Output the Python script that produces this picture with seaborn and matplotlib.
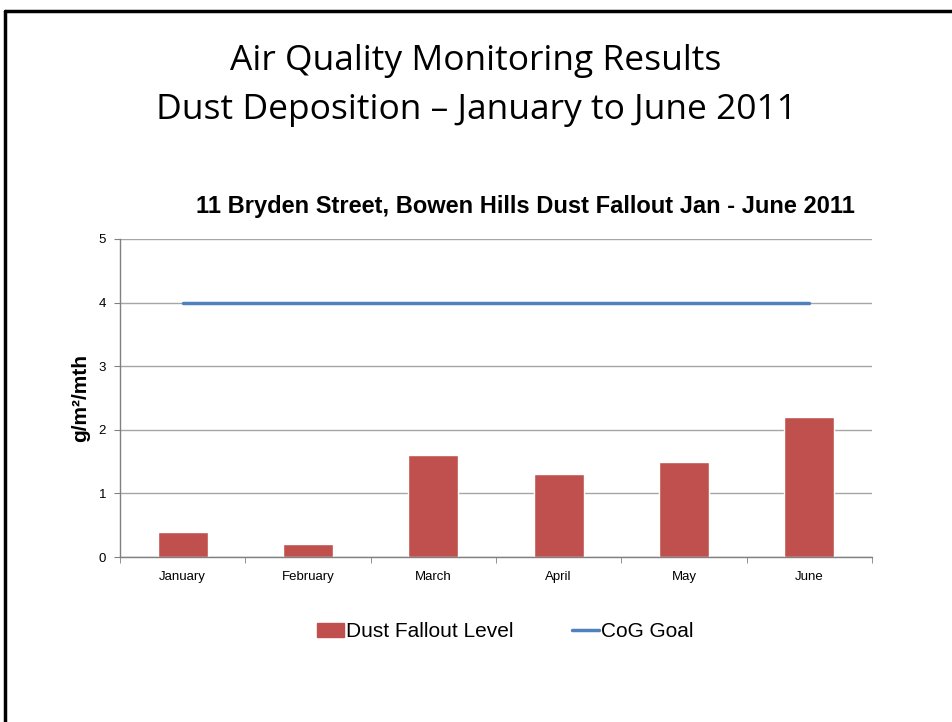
import numpy as np
import pandas as pd
import matplotlib
matplotlib.use("Agg")
import matplotlib.pyplot as plt
from matplotlib.lines import Line2D
from matplotlib.patches import Patch
import seaborn as sns

months = ["January", "February", "March", "April", "May", "June"]
dust = [0.4, 0.2, 1.6, 1.3, 1.5, 2.2]
goal = [4, 4, 4, 4, 4, 4]

bar_color = "#C0504D"
line_color = "#4F81BD"

sns.set_style("white")
plt.rcParams["font.family"] = ["Liberation Sans", "DejaVu Sans"]
plt.rcParams["text.color"] = "black"
plt.rcParams["axes.labelcolor"] = "black"

df = pd.DataFrame({"month": months, "dust": dust})

fig = plt.figure(figsize=(9.52, 7.22), dpi=100)
ax = fig.add_axes([0.126, 0.2285, 0.79, 0.4405])

sns.barplot(data=df, x="month", y="dust", color=bar_color, width=0.4,
            saturation=1, ax=ax)
sns.lineplot(x=np.arange(len(months)), y=goal, color=line_color, lw=2.5, ax=ax)

ax.set_ylim(0, 5)
ax.set_xlim(-0.5, len(months) - 0.5)
ax.set_yticks([0, 1, 2, 3, 4, 5])
ax.yaxis.grid(True, color="#A6A6A6", lw=1)
ax.set_axisbelow(True)
ax.set_xlabel("")
ax.set_ylabel("g/m²/mth", fontsize=15, fontweight="bold", labelpad=6)
ax.tick_params(axis="both", labelsize=9.5, colors="black")
ax.tick_params(axis="x", length=0, pad=10)
ax.tick_params(axis="y", length=4, color="#808080", direction="out", pad=6, left=True)
ax.set_xticks(np.arange(-0.5, len(months)), minor=True)
ax.tick_params(axis="x", which="minor", length=4, color="#808080", direction="out", bottom=True)
for s in ["top", "right"]:
    ax.spines[s].set_visible(False)
for s in ["left", "bottom"]:
    ax.spines[s].set_color("#808080")
    ax.spines[s].set_linewidth(1)

ax.set_title("11 Bryden Street, Bowen Hills Dust Fallout Jan - June 2011",
             fontsize=17, fontweight="bold", pad=19, x=0.539)

handles = [Patch(color=bar_color), Line2D([], [], color=line_color, lw=2.5)]
fig.legend(handles, ["Dust Fallout Level", "CoG Goal"], loc="center",
           bbox_to_anchor=(0.531, 0.125), ncol=2, frameon=False, fontsize=15,
           handlelength=1.3, handletextpad=0.1, columnspacing=2.8)

fig.text(0.5, 0.915, "Air Quality Monitoring Results", ha="center", va="center",
         fontsize=25.5, family=["Open Sans", "DejaVu Sans"])
fig.text(0.5, 0.848, "Dust Deposition \u2013 January to June 2011", ha="center",
         va="center", fontsize=25.5, family=["Open Sans", "DejaVu Sans"])

# slide border
fig.add_artist(Line2D([5 / 952, 1], [1 - 11 / 722, 1 - 11 / 722], color="black", lw=2.5,
                      transform=fig.transFigure))
fig.add_artist(Line2D([5 / 952, 5 / 952], [0, 1 - 11 / 722], color="black", lw=2.5,
                      transform=fig.transFigure))

fig.savefig("out.png", dpi=100)
